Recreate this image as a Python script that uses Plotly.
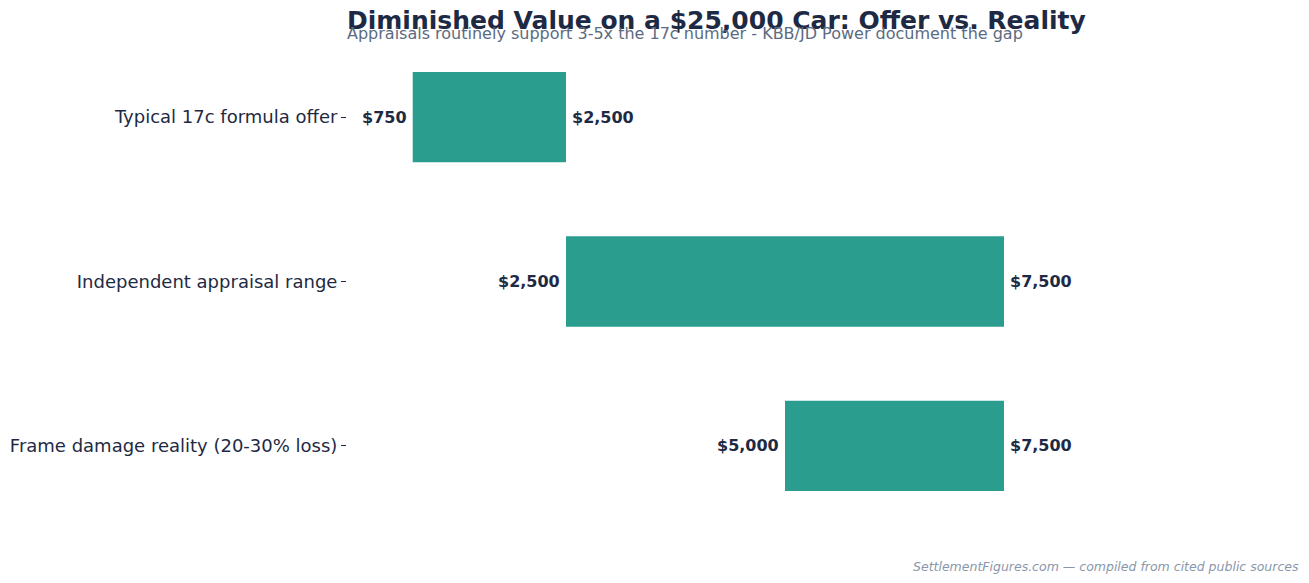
import plotly.graph_objects as go

categories = ["Typical 17c formula offer", "Independent appraisal range", "Frame damage reality (20-30% loss)"]
low_values = [750, 2500, 5000]
high_values = [2500, 7500, 7500]

TITLE = "Diminished Value on a $25,000 Car: Offer vs. Reality"
SUBTITLE = "Appraisals routinely support 3-5x the 17c number - KBB/JD Power document the gap"
FOOTER = "SettlementFigures.com \u2014 compiled from cited public sources"

DARK = "#1e2a44"
TEAL = "#2a9d8f"
FONT = "DejaVu Sans, Verdana, sans-serif"

W, H = 1309, 583
ML, MR, MT, MB = 347, 86, 35, 55
pw = W - ML - MR
ph = H - MT - MB

fig = go.Figure()
fig.add_trace(go.Bar(
    y=categories,
    x=[h - l for l, h in zip(low_values, high_values)],
    base=low_values,
    orientation="h",
    width=0.55,
    marker=dict(color=TEAL, line=dict(width=0)),
    hoverinfo="skip",
    showlegend=False,
))

annotations = []
for cat, lo, hi in zip(categories, low_values, high_values):
    annotations.append(dict(x=lo, y=cat, xref="x", yref="y", text=f"<b>${lo:,}</b>",
                            showarrow=False, xanchor="right", xshift=-4,
                            font=dict(family=FONT, size=16, color=DARK)))
    annotations.append(dict(x=hi, y=cat, xref="x", yref="y", text=f"<b>${hi:,}</b>",
                            showarrow=False, xanchor="left", xshift=4,
                            font=dict(family=FONT, size=16, color=DARK)))

annotations.append(dict(x=0, y=1 + 15 / ph, xref="paper", yref="paper", text=f"<b>{TITLE}</b>",
                        showarrow=False, xanchor="left", yanchor="middle", xshift=-2,
                        font=dict(family=FONT, size=25, color=DARK)))
annotations.append(dict(x=0, y=1 + 1 / ph, xref="paper", yref="paper", text=SUBTITLE,
                        showarrow=False, xanchor="left", yanchor="middle", xshift=-2,
                        font=dict(family=FONT, size=16, color="#5b6b82")))
annotations.append(dict(x=(1299 - ML) / pw, y=(MT + ph - 566) / ph, xref="paper", yref="paper",
                        text=f"<i>{FOOTER}</i>", showarrow=False, xanchor="right", yanchor="middle",
                        xshift=2,
                        font=dict(family=FONT, size=12.5, color="#8a97aa")))

fig.update_layout(
    width=W, height=H,
    margin=dict(l=ML, r=MR, t=MT, b=MB, autoexpand=False),
    paper_bgcolor="white", plot_bgcolor="white",
    font=dict(family=FONT, color=DARK),
    annotations=annotations,
    xaxis=dict(range=[0, 10000], showticklabels=False, showgrid=False, zeroline=False,
               showline=False, ticks="", automargin=False),
    yaxis=dict(autorange="reversed", showgrid=False, zeroline=False, showline=False,
               ticks="outside", ticklen=5, tickcolor=DARK, tickwidth=1, automargin=False,
               tickfont=dict(family=FONT, size=18, color=DARK)),
)

fig.write_html("out.html")
